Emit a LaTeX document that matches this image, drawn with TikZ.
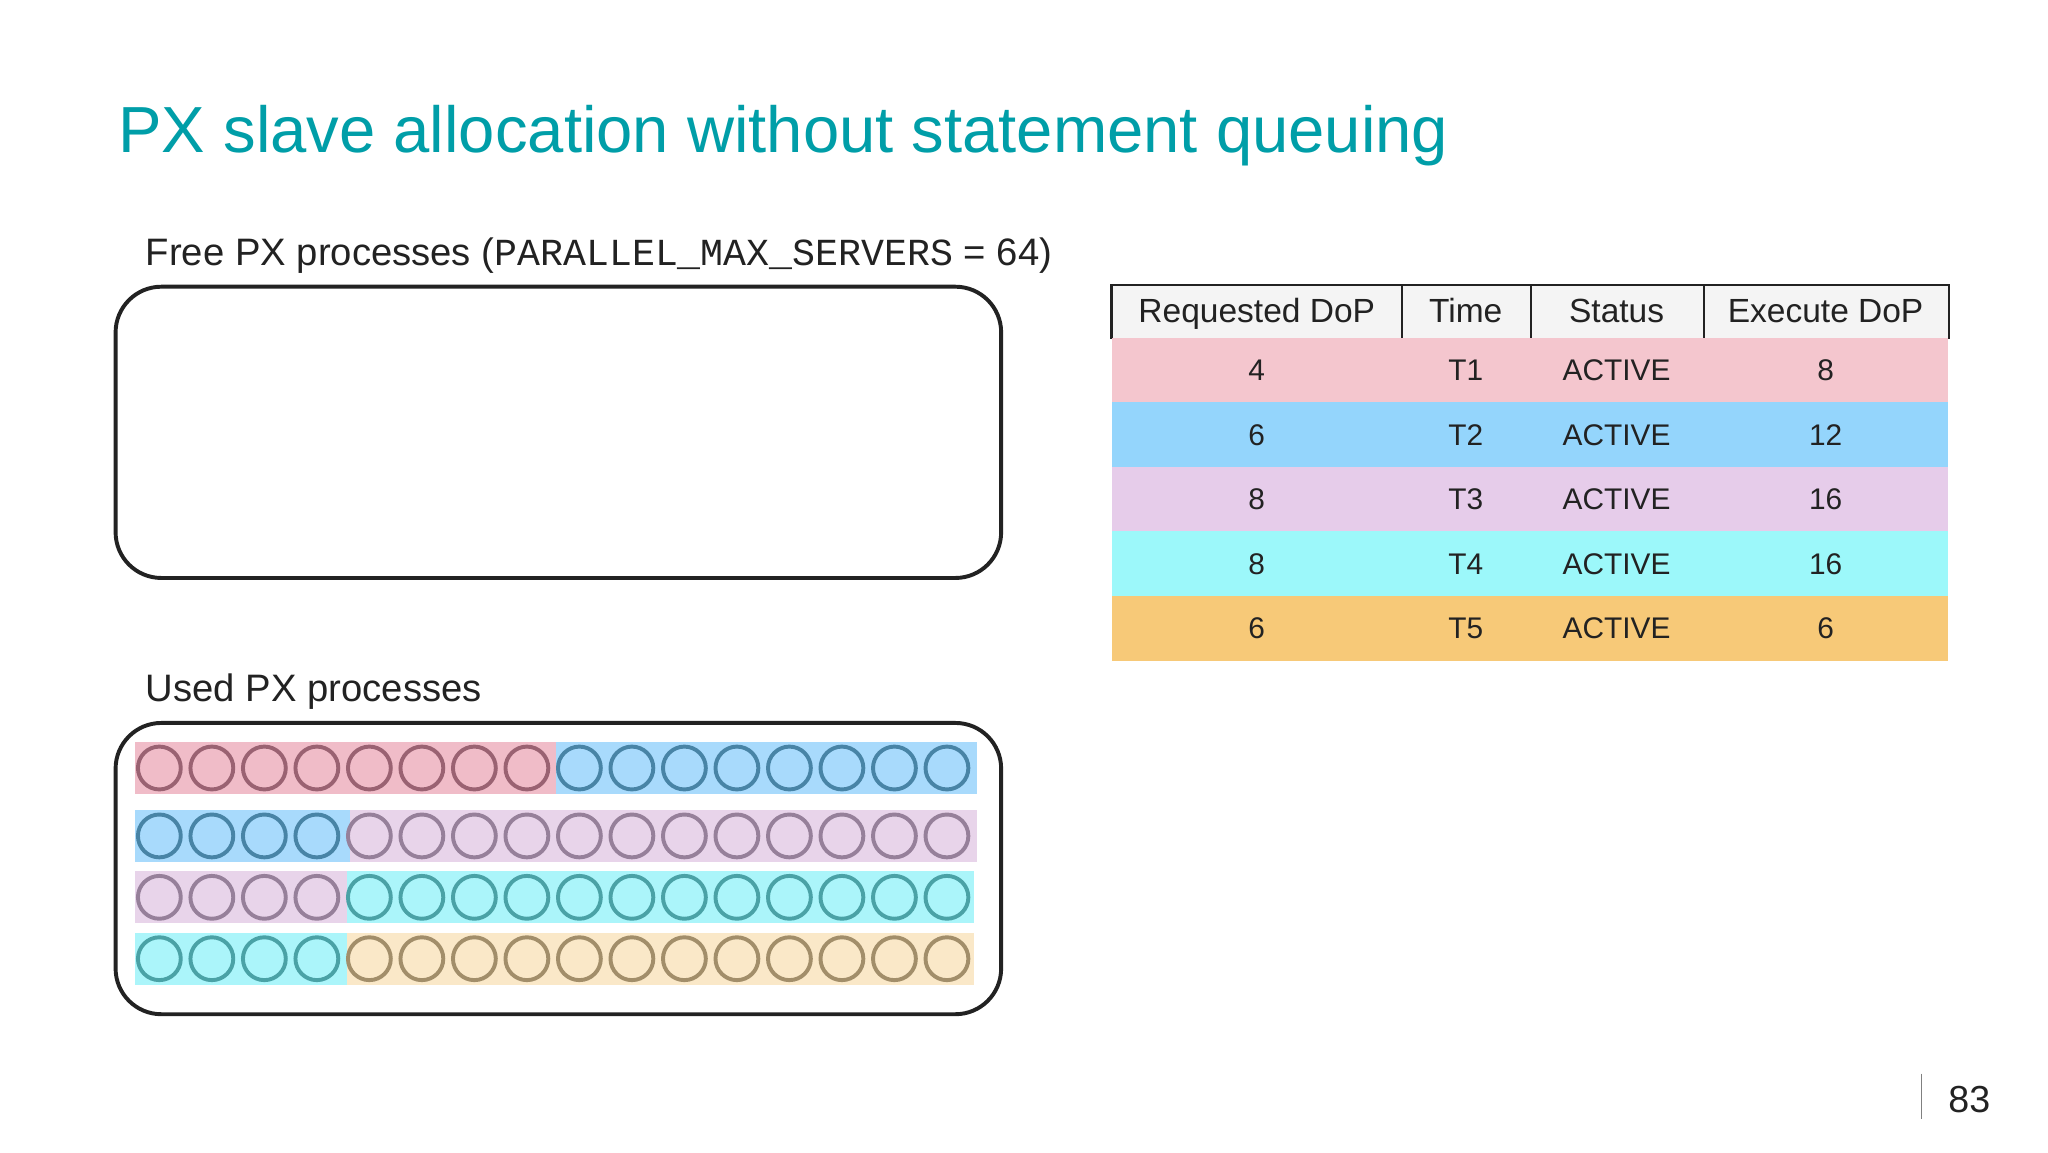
\documentclass[tikz,border=0pt]{standalone}
\usepackage{fontspec}
\setmainfont{Liberation Sans}
\setmonofont{Liberation Mono}

\definecolor{titleteal}{RGB}{0,158,168}
\definecolor{inkgray}{RGB}{34,34,34}
\definecolor{pinkband}{RGB}{240,188,200}
\definecolor{pinkring}{RGB}{154,98,114}
\definecolor{blueband}{RGB}{168,218,252}
\definecolor{bluering}{RGB}{72,132,166}
\definecolor{lilacband}{RGB}{232,212,234}
\definecolor{lilacring}{RGB}{150,128,154}
\definecolor{cyanband}{RGB}{171,245,250}
\definecolor{cyanring}{RGB}{74,162,166}
\definecolor{peachband}{RGB}{250,232,200}
\definecolor{peachring}{RGB}{162,142,106}
\definecolor{rowpink}{RGB}{244,198,206}
\definecolor{rowblue}{RGB}{148,213,252}
\definecolor{rowlilac}{RGB}{230,204,234}
\definecolor{rowcyan}{RGB}{156,248,250}
\definecolor{roworange}{RGB}{247,201,120}
\definecolor{headgray}{RGB}{244,244,244}

\tikzset{
  poolbox/.style={draw=inkgray, line width=0.03cm, rounded corners=0.35cm,
    minimum width=6.78cm, minimum height=2.23cm, anchor=north west, inner sep=0pt},
  band/.style={inner sep=0pt, minimum height=0.40cm, anchor=west},
  ring/.style={circle, line width=0.03cm, minimum size=0.328cm, inner sep=0pt},
  caption/.style={anchor=base west, inner sep=0pt, text=inkgray,
    font=\fontsize{8.33}{10}\selectfont},
  headcell/.style={anchor=north west, inner sep=0pt, fill=headgray, text=inkgray,
    minimum height=0.40cm, text height=5.2pt, text depth=0.4pt,
    font=\fontsize{7.3}{8.8}\selectfont},
  bodycell/.style={anchor=north west, inner sep=0pt, text=inkgray,
    minimum height=0.494cm, text height=4.65pt, text depth=0pt,
    font=\fontsize{6.5}{7.8}\selectfont},
  tableline/.style={draw=inkgray, line width=0.016cm}
}

\begin{document}
\begin{tikzpicture}
% background and page size
\fill[white] (0,0) rectangle (15.68,8.82);
\useasboundingbox (0,0) rectangle (15.68,8.82);

% Title
\node[anchor=base west, inner sep=0pt, text=titleteal,
  font=\fontsize{14.2}{17}\selectfont] (title) at (0.90,7.65)
  {PX slave allocation without statement queuing};

% Free pool
\node[caption] (freelabel) at (1.11,6.79)
  {Free PX processes (\texttt{PARALLEL\_MAX\_SERVERS} = 64)};
\node[poolbox] (free) at (0.87,6.64) {};

% Used pool
\node[caption] (usedlabel) at (1.11,3.45) {Used PX processes};
\node[poolbox] (used) at (0.87,3.30) {};

% Row 1: T1 (8) and T2 (8)
\node[band, fill=pinkband, minimum width=3.22cm] (bandA) at (1.03,2.94) {};
\node[band, fill=blueband, minimum width=3.22cm] (bandB) at (4.25,2.94) {};
\foreach \k in {0,...,7}
  \node[ring, draw=pinkring] (ra\k) at ({1.22+0.402*\k},2.94) {};
\foreach \k in {8,...,15}
  \node[ring, draw=bluering] (ra\k) at ({1.22+0.402*\k},2.94) {};

% Row 2: T2 (4) and T3 (12)
\node[band, fill=blueband, minimum width=1.64cm] (bandC) at (1.03,2.42) {};
\node[band, fill=lilacband, minimum width=4.80cm] (bandD) at (2.67,2.42) {};
\foreach \k in {0,...,3}
  \node[ring, draw=bluering] (rb\k) at ({1.22+0.402*\k},2.42) {};
\foreach \k in {4,...,15}
  \node[ring, draw=lilacring] (rb\k) at ({1.22+0.402*\k},2.42) {};

% Row 3: T3 (4) and T4 (12)
\node[band, fill=lilacband, minimum width=1.62cm] (bandE) at (1.03,1.95) {};
\node[band, fill=cyanband, minimum width=4.80cm] (bandF) at (2.65,1.95) {};
\foreach \k in {0,...,3}
  \node[ring, draw=lilacring] (rc\k) at ({1.22+0.402*\k},1.95) {};
\foreach \k in {4,...,15}
  \node[ring, draw=cyanring] (rc\k) at ({1.22+0.402*\k},1.95) {};

% Row 4: T4 (4) and T5 (12)
\node[band, fill=cyanband, minimum width=1.62cm] (bandG) at (1.03,1.48) {};
\node[band, fill=peachband, minimum width=4.80cm] (bandH) at (2.65,1.48) {};
\foreach \k in {0,...,3}
  \node[ring, draw=cyanring] (rd\k) at ({1.22+0.402*\k},1.48) {};
\foreach \k in {4,...,15}
  \node[ring, draw=peachring] (rd\k) at ({1.22+0.402*\k},1.48) {};

% Table header
\node[headcell, minimum width=2.21cm] (hreq) at (8.51,6.64) {Requested DoP};
\node[headcell, minimum width=0.99cm] (htime) at (10.72,6.64) {Time};
\node[headcell, minimum width=1.32cm] (hstat) at (11.71,6.64) {Status};
\node[headcell, minimum width=1.88cm] (hexe) at (13.03,6.64) {Execute DoP};
\draw[tableline] (hreq.south west) -- (hreq.north west) -- (hexe.north east) -- (hexe.south east);
\draw[tableline] (hreq.north east) -- (hreq.south east);
\draw[tableline] (htime.north east) -- (htime.south east);
\draw[tableline] (hstat.north east) -- (hstat.south east);

% Table rows
\foreach \req/\tm/\exe/\col [count=\i] in
  {4/T1/8/rowpink, 6/T2/12/rowblue, 8/T3/16/rowlilac, 8/T4/16/rowcyan, 6/T5/6/roworange}{
  \pgfmathsetmacro{\ytop}{6.24-0.494*(\i-1)}
  \node[bodycell, fill=\col, minimum width=2.21cm] (req\i) at (8.51,\ytop) {\req};
  \node[bodycell, fill=\col, minimum width=0.99cm] (time\i) at (10.72,\ytop) {\tm};
  \node[bodycell, fill=\col, minimum width=1.32cm] (stat\i) at (11.71,\ytop) {ACTIVE};
  \node[bodycell, fill=\col, minimum width=1.88cm] (exe\i) at (13.03,\ytop) {\exe};
}

% Page number
\coordinate (bartop) at (14.71,0.60);
\coordinate (barbot) at (14.71,0.25);
\draw[gray, line width=0.012cm] (bartop) -- (barbot);
\node[anchor=base west, inner sep=0pt, text=inkgray,
  font=\fontsize{8.2}{10}\selectfont] (pagenum) at (14.91,0.30) {83};
\end{tikzpicture}
\end{document}
